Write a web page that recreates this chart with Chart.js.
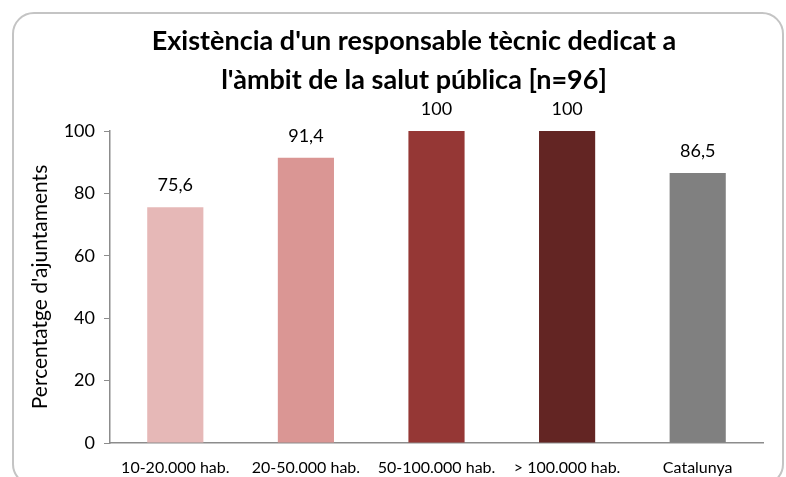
<!DOCTYPE html>
<html>
<head>
<meta charset="utf-8">
<script src="https://cdn.jsdelivr.net/npm/chart.js@4"></script>
<style>
  html, body { margin: 0; padding: 0; background: #fff; overflow: hidden; }
  #wrap { position: relative; width: 786px; height: 477px; }
  #frame {
    position: absolute; left: 12px; top: 12px; width: 772px; height: 474px;
    border: 2px solid #c4c4c4; border-radius: 22px; box-sizing: border-box;
  }
  #myChart { position: absolute; left: 0; top: 0; }
</style>
</head>
<body>
<div id="wrap">
  <div id="frame"></div>
  <canvas id="myChart" width="786" height="477"></canvas>
</div>
<script>
// data
const categories = ['10-20.000 hab.', '20-50.000 hab.', '50-100.000 hab.', '> 100.000 hab.', 'Catalunya'];
const values = [75.6, 91.4, 100, 100, 86.5];
const barColors = ['#E6B8B7', '#DA9694', '#953735', '#632523', '#808080'];
const yTicks = [0, 20, 40, 60, 80, 100];
const titleLines = ["Existència d'un responsable tècnic dedicat a", "l'àmbit de la salut pública [n=96]"];
const yTitle = "Percentatge d'ajuntaments";

const FONT = "Lato, 'Open Sans', sans-serif";

// title drawn by hand so it sits where the original one is
const titlePlugin = {
  id: 'bigTitle',
  afterDraw(chart) {
    let c = chart.ctx;
    c.save();
    c.font = "bold 27px " + FONT;
    c.fillStyle = '#000';
    c.textAlign = 'center';
    c.textBaseline = 'alphabetic';
    c.fillText(titleLines[0], 414, 50);
    c.fillText(titleLines[1], 414, 89);
    c.restore();
  }
};

// value labels above each bar, comma decimals
const labelPlugin = {
  id: 'barLabels',
  afterDatasetsDraw(chart) {
    let c = chart.ctx;
    let meta = chart.getDatasetMeta(0);
    c.save();
    c.font = "18px " + FONT;
    c.fillStyle = '#000';
    c.textAlign = 'center';
    c.textBaseline = 'alphabetic';
    meta.data.forEach((bar, i) => {
      let txt = String(values[i]).replace('.', ',');
      c.fillText(txt, bar.x, bar.y - 16);
    });
    c.restore();
  }
};

var ctx = document.getElementById('myChart').getContext('2d');

var myChart = new Chart(ctx, {
  type: 'bar',
  data: {
    labels: categories,
    datasets: [{
      data: values,
      backgroundColor: barColors,
      borderWidth: 0,
      barPercentage: 0.43,
      categoryPercentage: 1
    }]
  },
  options: {
    responsive: false,
    animation: false,
    layout: { padding: { top: 131, right: 23, left: 0, bottom: 0 } },
    plugins: {
      legend: { display: false },
      tooltip: { enabled: false },
      title: { display: false }
    },
    scales: {
      x: {
        grid: { display: false, drawTicks: false },
        border: { display: true, color: '#8c8c8c', width: 1.5 },
        ticks: { color: '#000', font: { family: FONT, size: 16 }, padding: 15, maxRotation: 0, autoSkip: false },
        afterFit: (scale) => { scale.height = 34; }
      },
      y: {
        min: 0,
        max: 100,
        afterBuildTicks: (scale) => { scale.ticks = yTicks.map(v => ({ value: v })); },
        grid: { drawOnChartArea: false, drawTicks: true, tickLength: 6, color: '#8c8c8c' },
        border: { display: true, color: '#8c8c8c', width: 1.5 },
        ticks: { color: '#000', font: { family: FONT, size: 18 }, padding: 9 },
        title: { display: true, text: yTitle, color: '#000', font: { family: FONT, size: 21 }, padding: { top: 28, bottom: 0 } },
        afterFit: (scale) => { scale.width = 110; }
      }
    }
  },
  plugins: [titlePlugin, labelPlugin]
});
</script>
</body>
</html>
